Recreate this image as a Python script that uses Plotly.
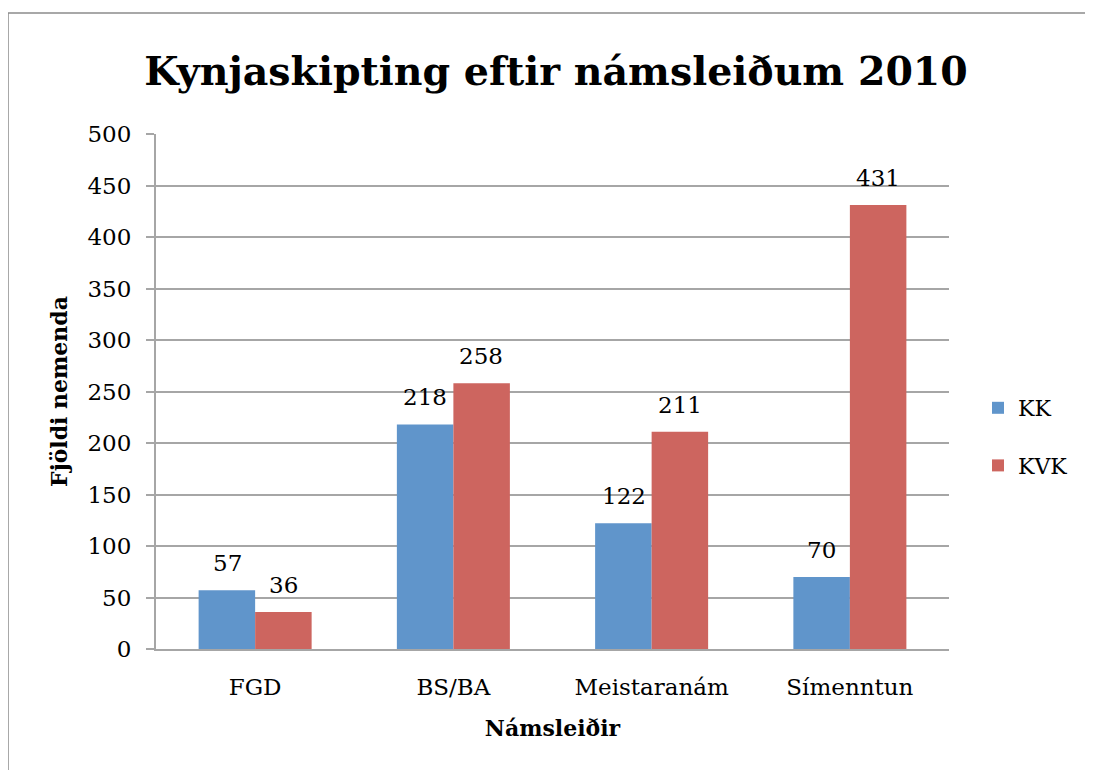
import plotly.graph_objects as go

categories = ["FGD", "BS/BA", "Meistaranám", "Símenntun"]
kk_values = [57, 218, 122, 70]
kvk_values = [36, 258, 211, 431]
series_names = ["KK", "KVK"]
y_ticks = [0, 50, 100, 150, 200, 250, 300, 350, 400, 450, 500]

OFF = 8  # default page body margin
W, H = 1093 - OFF, 770 - OFF
L, R, T, B = 156 - OFF, 949 - OFF, 134 - OFF, 649 - OFF
FONT = "DejaVu Serif"
BLUE = "#6095CB"
RED = "#CD655F"
GRID = "#A6A6A6"


def px_x(p):
    return (p - OFF - L) / (R - L)


def px_y(p):
    return (B - (p - OFF)) / (B - T)


fig = go.Figure()
fig.add_trace(go.Bar(name=series_names[0], x=categories, y=kk_values,
                     marker=dict(color=BLUE, line=dict(width=0)), legendgroup="a"))
fig.add_trace(go.Bar(name=series_names[1], x=categories, y=kvk_values,
                     marker=dict(color=RED, line=dict(width=0)), legendgroup="b"))

for vals, shift in ((kk_values, -28), (kvk_values, 28)):
    for c, v in zip(categories, vals):
        fig.add_annotation(x=c, y=v, text=str(v), showarrow=False, xref="x", yref="y",
                           yanchor="bottom", xshift=shift, yshift=12,
                           font=dict(family=FONT, size=23, color="black"))

# outer chart border
fig.add_shape(type="rect", xref="paper", yref="paper",
              x0=px_x(8), y0=px_y(900), x1=px_x(1300), y1=px_y(13),
              line=dict(color="#8C8C8C", width=1.5), fillcolor="rgba(0,0,0,0)", layer="below")

fig.update_layout(
    width=W, height=H,
    margin=dict(l=L, r=W - R, t=T, b=H - B, pad=0),
    paper_bgcolor="white", plot_bgcolor="white",
    barmode="group", bargap=0.43, bargroupgap=0,
    font=dict(family=FONT, size=23, color="black"),
    title=dict(text="<b>Kynjaskipting eftir námsleiðum 2010</b>",
               x=(556 - OFF) / W, xanchor="center", y=1 - (71 - OFF) / H, yanchor="middle",
               font=dict(family=FONT, size=39.5, color="black")),
    legend=dict(x=px_x(978), y=px_y(437), xanchor="left", yanchor="middle",
                traceorder="grouped", tracegroupgap=26, itemwidth=30,
                font=dict(family=FONT, size=22, color="black"),
                bgcolor="rgba(0,0,0,0)"),
    showlegend=True,
)

fig.update_xaxes(showline=True, linecolor=GRID, linewidth=2, ticks="",
                 showgrid=False, tickfont=dict(family=FONT, size=23), ticklabelstandoff=16,
                 title=dict(text="<b>Námsleiðir</b>", font=dict(family=FONT, size=22), standoff=22))
fig.update_yaxes(range=[0, 500], tickvals=y_ticks, showline=True, linecolor=GRID, linewidth=2,
                 ticks="outside", ticklen=8, tickcolor=GRID, tickwidth=2,
                 showgrid=True, gridcolor=GRID, gridwidth=2, zeroline=False,
                 tickfont=dict(family=FONT, size=23), ticklabelstandoff=10,
                 title=dict(text="<b>Fjöldi nemenda</b>", font=dict(family=FONT, size=22), standoff=14))

fig.write_html("out.html")
